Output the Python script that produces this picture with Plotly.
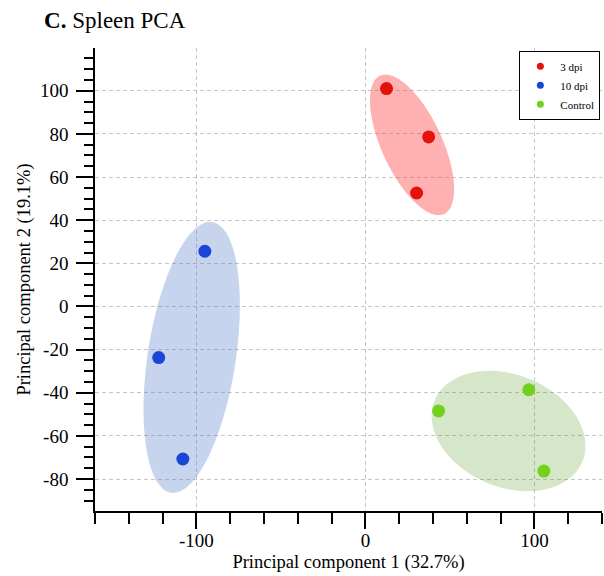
import numpy as np
import plotly.graph_objects as go

# PCA scores per group
groups = ["3 dpi", "10 dpi", "Control"]
pc1_3dpi = [12.5, 37.4, 30.3]
pc2_3dpi = [101.0, 78.6, 52.6]
pc1_10dpi = [-95.0, -122.3, -108.0]
pc2_10dpi = [25.6, -23.7, -70.7]
pc1_ctrl = [43.3, 96.7, 105.6]
pc2_ctrl = [-48.4, -38.6, -76.3]

# Group ellipses: centre, half-extent along each axis, correlation
ell_cx = [27.6, -102.8, 84.7]
ell_cy = [74.9, -23.6, -57.7]
ell_hx = [24.9, 28.5, 45.5]
ell_hy = [32.6, 62.8, 27.9]
ell_rho = [-0.63, 0.383, -0.248]

point_colors = ["#e3120c", "#1a45d6", "#72d11c"]
fill_colors = ["#ffb1b1", "#c7d4ee", "#d5e6c9"]

x_ticks = [-100, 0, 100]
x_ticktext = ["-100", "0", "100"]
y_ticks = [-80, -60, -40, -20, 0, 20, 40, 60, 80, 100]
y_ticktext = ["-80", "-60", "-40", "-20", "0", "20", "40", "60", "80", "100"]

FONT = "Liberation Serif, Times New Roman, serif"

fig = go.Figure()

xs = [pc1_3dpi, pc1_10dpi, pc1_ctrl]
ys = [pc2_3dpi, pc2_10dpi, pc2_ctrl]

shapes = []
t = np.linspace(0, 2 * np.pi, 121)
for cx, cy, hx, hy, rho, fc in zip(ell_cx, ell_cy, ell_hx, ell_hy, ell_rho, fill_colors):
    ex = cx + hx * np.cos(t)
    ey = cy + hy * (rho * np.cos(t) + np.sqrt(1 - rho ** 2) * np.sin(t))
    path = "M " + " L ".join(f"{a:.3f},{b:.3f}" for a, b in zip(ex, ey)) + " Z"
    shapes.append(dict(type="path", path=path, xref="x", yref="y",
                       fillcolor=fc, line=dict(width=0), layer="below"))

for name, x, y, c in zip(groups, xs, ys, point_colors):
    fig.add_trace(go.Scatter(x=x, y=y, mode="markers", name=name, showlegend=False,
                             marker=dict(size=13, color=c, line=dict(width=0))))
    # small legend swatch
    fig.add_trace(go.Scatter(x=[None], y=[None], mode="markers", name=name,
                             marker=dict(size=7, color=c, line=dict(width=0))))

axis_common = dict(
    showline=True, linecolor="black", linewidth=1.5,
    ticks="outside", tickcolor="black", tickwidth=1.5,
    showgrid=True, gridcolor="rgba(120,120,120,0.42)", griddash="4px,3px", gridwidth=1,
    zeroline=False, tickfont=dict(family=FONT, size=19, color="black"),
    mirror=False,
)

fig.update_layout(
    width=604, height=576,
    margin=dict(l=95, r=2, t=48, b=65),
    paper_bgcolor="white", plot_bgcolor="white",
    shapes=shapes,
    font=dict(family=FONT, color="black"),
    title=dict(text="<b>C.</b> Spleen PCA", x=0.073, xanchor="left", y=0.952, yanchor="bottom",
               font=dict(family=FONT, size=23, color="black")),
    xaxis=dict(**axis_common, range=[-160, 140], tickvals=x_ticks, ticktext=x_ticktext,
               ticklen=16, ticklabelstandoff=-5,
               minor=dict(dtick=20, tick0=0, ticks="outside", ticklen=11, tickcolor="black",
                          tickwidth=1.5, showgrid=False),
               title=dict(text="Principal component 1 (32.7%)", standoff=6,
                          font=dict(family=FONT, size=18.5, color="black"))),
    yaxis=dict(**axis_common, range=[-94.8, 119.8], tickvals=y_ticks, ticktext=y_ticktext,
               ticklen=17, ticklabelstandoff=4,
               minor=dict(dtick=5, tick0=0, ticks="outside", ticklen=9, tickcolor="black",
                          tickwidth=1.5, showgrid=False),
               title=dict(text="Principal component 2 (19.1%)", standoff=4,
                          font=dict(family=FONT, size=18.5, color="black"))),
    legend=dict(x=0.837, y=0.994, xanchor="left", yanchor="top",
                bordercolor="black", borderwidth=1, bgcolor="white",
                font=dict(family=FONT, size=11, color="black"),
                itemwidth=30, tracegroupgap=0),
)

fig.write_html("out.html")
